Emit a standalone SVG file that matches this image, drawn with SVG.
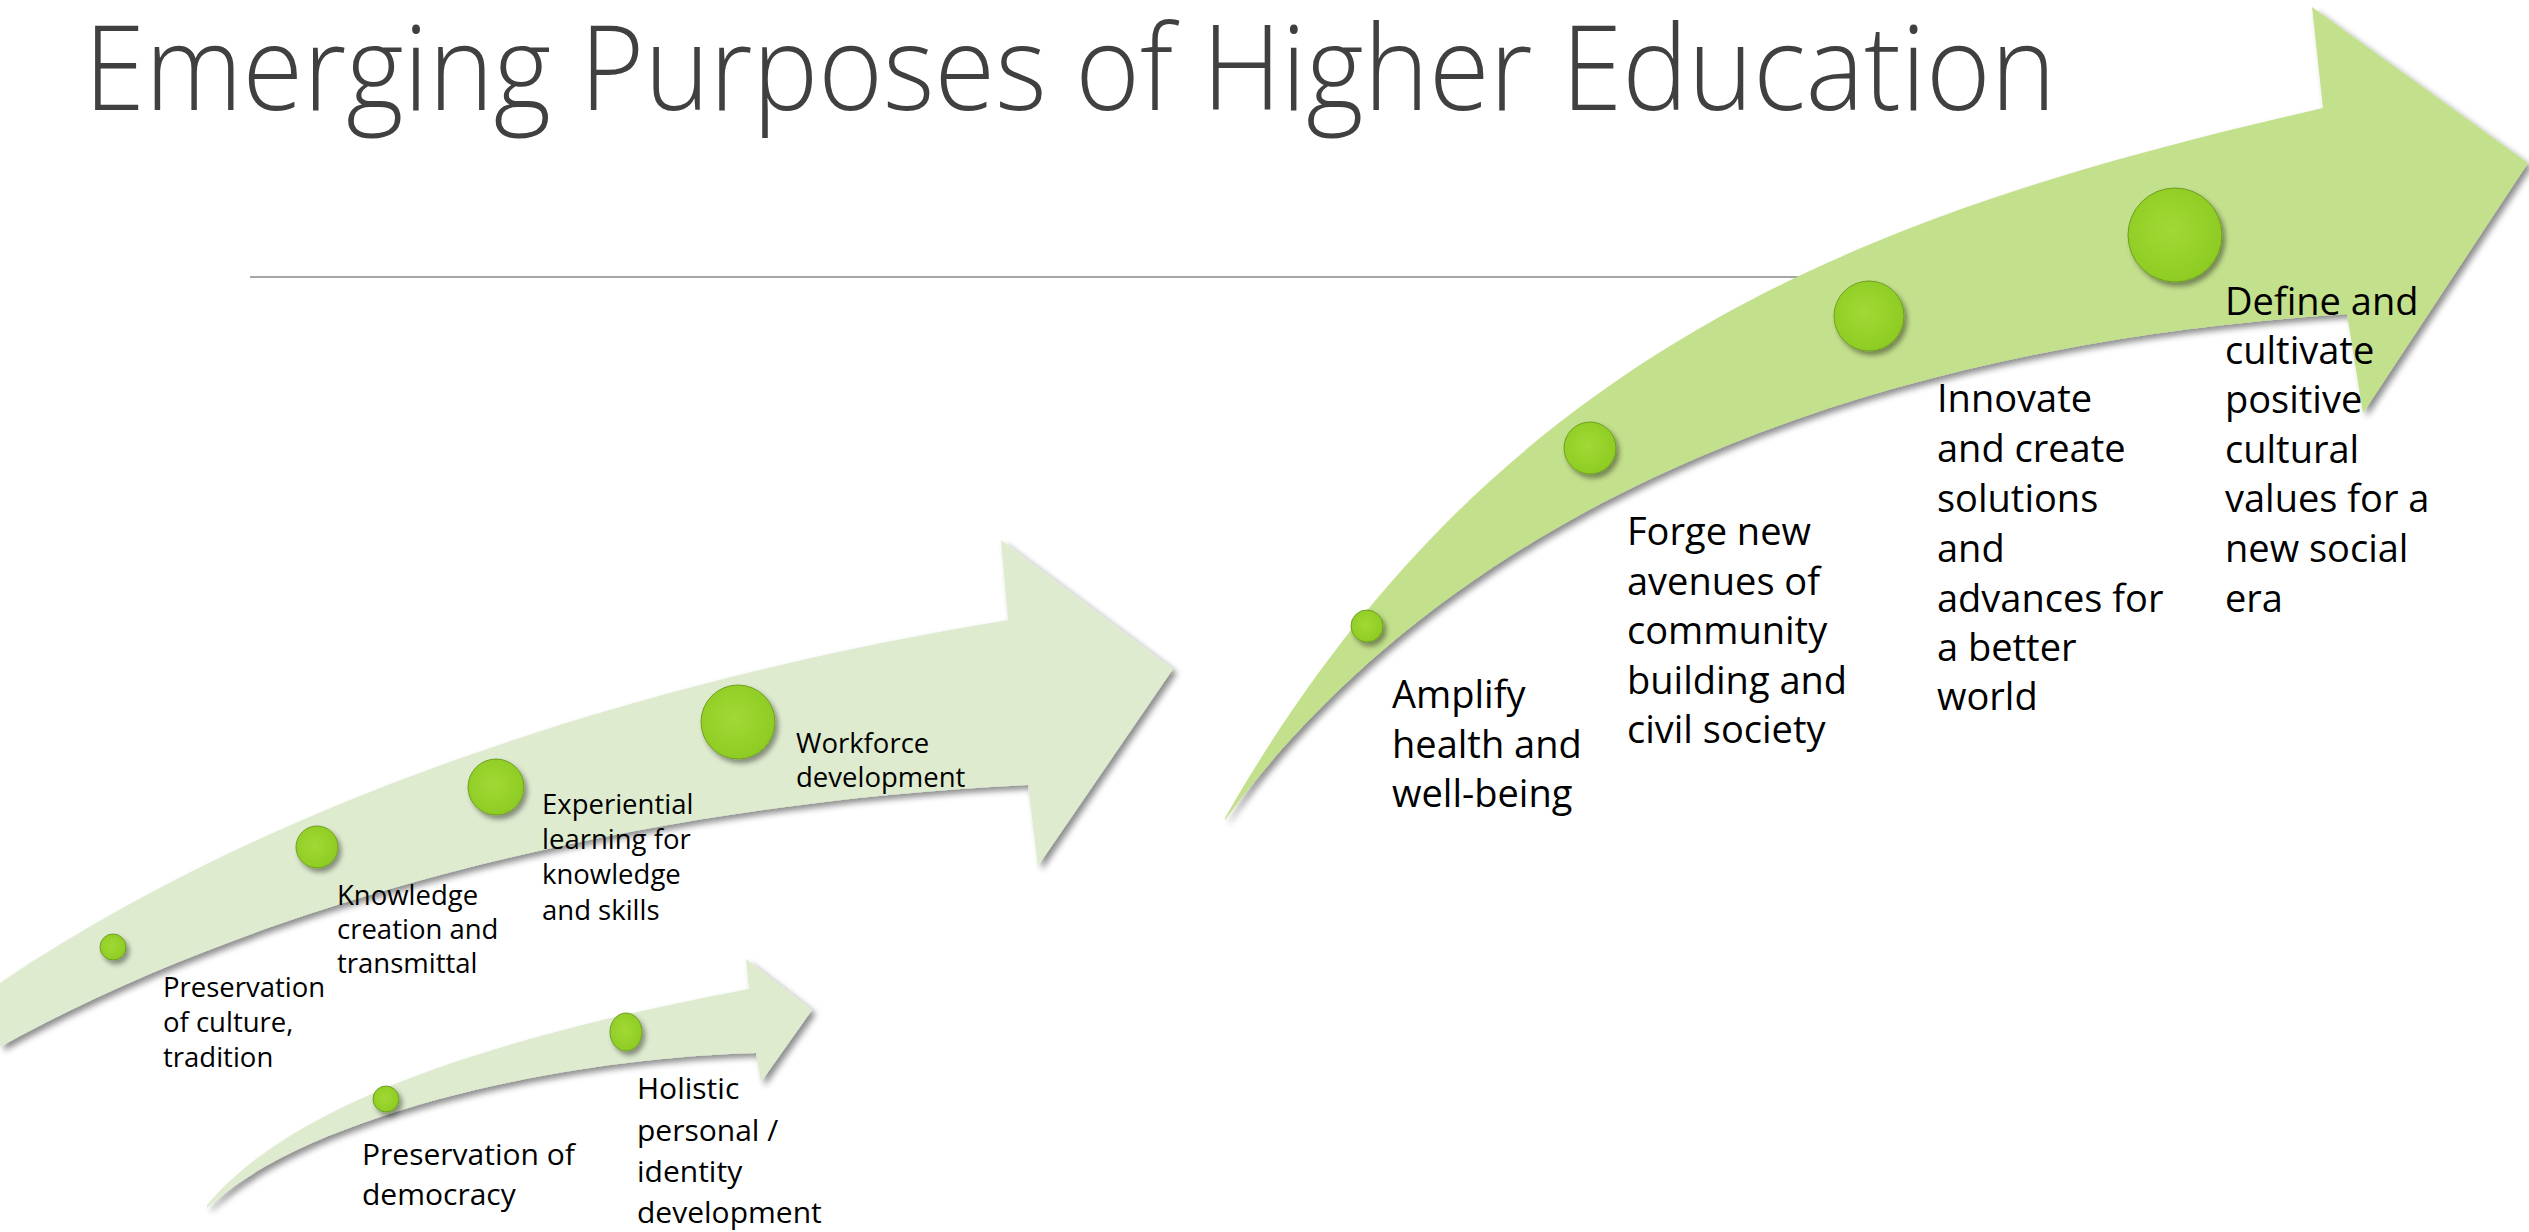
<svg xmlns="http://www.w3.org/2000/svg" width="2529" height="1232" viewBox="0 0 2529 1232">
  <defs>
    <filter id="shadow" x="-10%" y="-10%" width="125%" height="125%">
      <feDropShadow dx="4" dy="4" stdDeviation="3" flood-color="#000" flood-opacity="0.45"/>
    </filter>
    <filter id="dotShadow" x="-30%" y="-30%" width="170%" height="170%">
      <feDropShadow dx="3" dy="4" stdDeviation="2.5" flood-color="#000" flood-opacity="0.4"/>
    </filter>
    <radialGradient id="dotFill" cx="45%" cy="45%" r="60%">
      <stop offset="0" stop-color="#a2d935"/>
      <stop offset="1" stop-color="#8ccb22"/>
    </radialGradient>
  </defs>
  <style>
    .title { font-family: "Open Sans", "Liberation Sans", sans-serif; font-weight: 300; font-size: 118px; fill: #404040; }
    .big { font-family: "Open Sans", "Liberation Sans", sans-serif; font-size: 38px; fill: #000; }
    .mid { font-family: "Open Sans", "Liberation Sans", sans-serif; font-size: 27.5px; fill: #000; }
    .small { font-family: "Open Sans", "Liberation Sans", sans-serif; font-size: 30px; fill: #000; }
    .dot { fill: url(#dotFill); stroke: #6f9e24; stroke-width: 1; filter: url(#dotShadow); }
    .arrowBig { fill: #c3e08c; filter: url(#shadow); }
    .arrowPale { fill: #deebcf; filter: url(#shadow); }
  </style>
  <rect width="2529" height="1232" fill="#fff"/>

  <g id="title">
    <text class="title" x="84" y="110" textLength="1972" lengthAdjust="spacingAndGlyphs">Emerging Purposes of Higher Education</text>
  </g>
  <g id="divider">
    <line x1="250" y1="277" x2="1800" y2="277" stroke="#a6a6a6" stroke-width="2"/>
  </g>

  <g id="arrows">
    <path id="arrow-medium" class="arrowPale" d="M0,983 C300,780 700,670 1008,620 L1001,540 L1173,669 L1038,866 L1028,785 C700,800 300,880 0,1047 Z"/>
    <path id="arrow-small" class="arrowPale" d="M207,1205 C307,1085 560,1025 749,989 L746,959 L812,1010 L761,1082 L756,1053 C560,1058 307,1115 207,1208 Z"/>
    <path id="arrow-large" class="arrowBig" d="M1225,818 C1495,345 1873,211 2323,108 L2312,7 L2528,163 L2363,413 L2347,314 C1800,350 1430,540 1225,820 Z"/>
  </g>

  <g id="node-preservation-culture">
    <ellipse class="dot" cx="113" cy="947" rx="13" ry="13"/>
    <text class="mid" x="163"><tspan x="163" y="997">Preservation</tspan><tspan x="163" y="1032">of culture,</tspan><tspan x="163" y="1067">tradition</tspan></text>
  </g>
  <g id="node-knowledge">
    <ellipse class="dot" cx="317" cy="847" rx="21" ry="21"/>
    <text class="mid"><tspan x="337" y="905">Knowledge</tspan><tspan x="337" y="939">creation and</tspan><tspan x="337" y="973">transmittal</tspan></text>
  </g>
  <g id="node-experiential">
    <ellipse class="dot" cx="496" cy="787" rx="28" ry="28"/>
    <text class="mid"><tspan x="542" y="814">Experiential</tspan><tspan x="542" y="849">learning for</tspan><tspan x="542" y="884">knowledge</tspan><tspan x="542" y="920">and skills</tspan></text>
  </g>
  <g id="node-workforce">
    <ellipse class="dot" cx="738" cy="722" rx="37" ry="37"/>
    <text class="mid"><tspan x="796" y="753">Workforce</tspan><tspan x="796" y="787">development</tspan></text>
  </g>

  <g id="node-democracy">
    <ellipse class="dot" cx="386" cy="1099" rx="13" ry="13"/>
    <text class="small"><tspan x="362" y="1165">Preservation of</tspan><tspan x="362" y="1205">democracy</tspan></text>
  </g>
  <g id="node-holistic">
    <ellipse class="dot" cx="626" cy="1032" rx="16" ry="19"/>
    <text class="small"><tspan x="637" y="1099">Holistic</tspan><tspan x="637" y="1141">personal /</tspan><tspan x="637" y="1182">identity</tspan><tspan x="637" y="1223">development</tspan></text>
  </g>

  <g id="node-amplify">
    <ellipse class="dot" cx="1367" cy="626" rx="16" ry="16"/>
    <text class="big"><tspan x="1392" y="708">Amplify</tspan><tspan x="1392" y="758">health and</tspan><tspan x="1392" y="807">well-being</tspan></text>
  </g>
  <g id="node-forge">
    <ellipse class="dot" cx="1590" cy="448" rx="26" ry="26"/>
    <text class="big"><tspan x="1627" y="545">Forge new</tspan><tspan x="1627" y="595">avenues of</tspan><tspan x="1627" y="644">community</tspan><tspan x="1627" y="694">building and</tspan><tspan x="1627" y="743">civil society</tspan></text>
  </g>
  <g id="node-innovate">
    <ellipse class="dot" cx="1869" cy="316" rx="35" ry="35"/>
    <text class="big"><tspan x="1937" y="412">Innovate</tspan><tspan x="1937" y="462">and create</tspan><tspan x="1937" y="512">solutions</tspan><tspan x="1937" y="562">and</tspan><tspan x="1937" y="612">advances for</tspan><tspan x="1937" y="661">a better</tspan><tspan x="1937" y="710">world</tspan></text>
  </g>
  <g id="node-define">
    <ellipse class="dot" cx="2175" cy="235" rx="47" ry="47"/>
    <text class="big"><tspan x="2225" y="315">Define and</tspan><tspan x="2225" y="364">cultivate</tspan><tspan x="2225" y="413">positive</tspan><tspan x="2225" y="463">cultural</tspan><tspan x="2225" y="512">values for a</tspan><tspan x="2225" y="562">new social</tspan><tspan x="2225" y="612">era</tspan></text>
  </g>
</svg>
